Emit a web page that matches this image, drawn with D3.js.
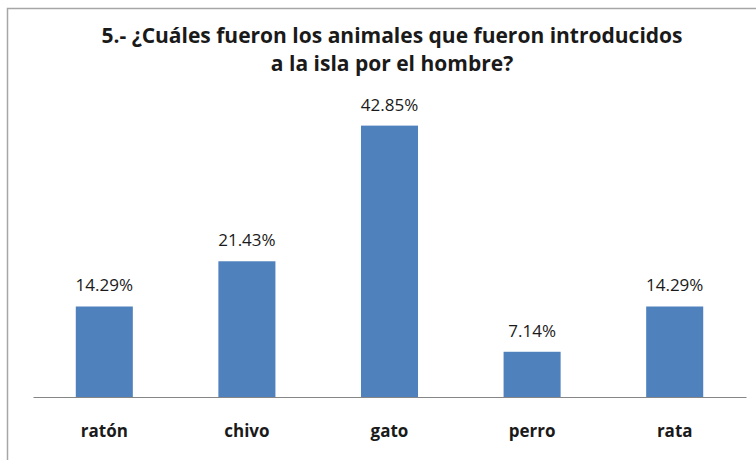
<!DOCTYPE html>
<html lang="es">
<head>
<meta charset="UTF-8">
<script src="https://d3js.org/d3.v7.min.js"></script>
<style>
  body { margin: 0; background: #fff; }
  svg { display: block; font-family: "Liberation Sans Narrow", "Open Sans", sans-serif; }
</style>
</head>
<body>
<div id="chart"></div>
<script>
const categories = ["ratón", "chivo", "gato", "perro", "rata"];
const values = [14.29, 21.43, 42.85, 7.14, 14.29];
const titleLines = ["5.- ¿Cuáles fueron los animales que fueron introducidos", "a la isla por el hombre?"];

const W = 756, H = 460;
const svg = d3.select("#chart").append("svg")
  .attr("width", W).attr("height", H);

// chart frame
svg.append("rect")
  .attr("x", 7.5).attr("y", 8.5)
  .attr("width", 760).attr("height", 470)
  .attr("fill", "#fff").attr("stroke", "#a6a6a6").attr("stroke-width", 1.5);

const x = d3.scaleBand()
  .domain(categories)
  .range([33, 746])
  .paddingInner(0.6).paddingOuter(0.3);

const y = d3.scaleLinear()
  .domain([0, 45])
  .range([397, 112]);

// title
svg.append("text")
  .attr("x", 392).attr("y", 43)
  .attr("text-anchor", "middle")
  .attr("font-size", 21).attr("font-weight", "bold").attr("fill", "#1a1a1a")
  .selectAll("tspan").data(titleLines).enter().append("tspan")
  .attr("x", 392).attr("dy", (d, i) => i ? 28 : 0)
  .text(d => d);

// bars
svg.selectAll(".bar").data(values).enter().append("rect")
  .attr("class", "bar")
  .attr("x", (d, i) => x(categories[i]))
  .attr("y", d => y(d))
  .attr("width", x.bandwidth())
  .attr("height", d => y(0) - y(d))
  .attr("fill", "#4f81bd");

// value labels
svg.selectAll(".val").data(values).enter().append("text")
  .attr("class", "val")
  .attr("x", (d, i) => x(categories[i]) + x.bandwidth() / 2)
  .attr("y", d => y(d) - 15)
  .attr("text-anchor", "middle")
  .attr("font-size", 17).attr("fill", "#1a1a1a")
  .text(d => d.toFixed(2) + "%");

// x axis
const axis = svg.append("g")
  .attr("transform", "translate(0," + y(0) + ")")
  .call(d3.axisBottom(x).tickSize(0).tickPadding(28));
axis.select(".domain").attr("stroke", "#868686").attr("stroke-width", 1.2);
axis.selectAll("text")
  .attr("font-size", 17).attr("font-weight", "bold").attr("fill", "#1a1a1a")
  .style("font-family", "\"Liberation Sans Narrow\", \"Open Sans\", sans-serif");
</script>
</body>
</html>
